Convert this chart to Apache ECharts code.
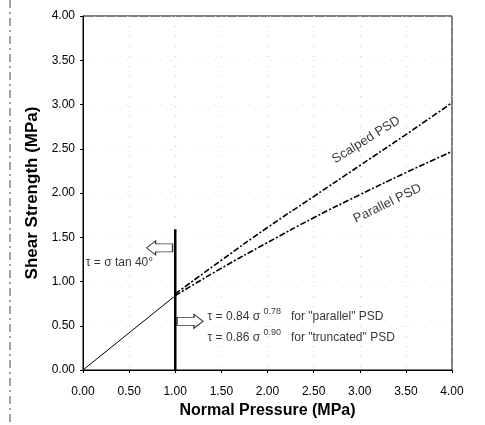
<!DOCTYPE html>
<html>
<head>
<meta charset="utf-8">
<script src="https://cdn.jsdelivr.net/npm/echarts@6/dist/echarts.min.js"></script>
<style>
html,body{margin:0;padding:0;background:#fff;}
#chart{width:485px;height:425px;}
</style>
</head>
<body>
<div id="chart"></div>
<script>
// ---- data ----
var xTicks = ['0.00','0.50','1.00','1.50','2.00','2.50','3.00','3.50','4.00'];
var yTicks = ['0.00','0.50','1.00','1.50','2.00','2.50','3.00','3.50','4.00'];
var frictionSigma = [0, 1.0];
var frictionTau   = [0, 0.84];
var curveSigma    = [1.0, 1.5, 2.0, 2.5, 3.0, 3.5, 4.0];
var scalpedTau    = [0.86, 1.24, 1.61, 1.96, 2.31, 2.66, 3.02];
var parallelTau   = [0.84, 1.15, 1.44, 1.72, 1.98, 2.23, 2.47];
var barSigma      = [1.0, 1.0];
var barTau        = [0.0, 1.59];

function pairs(xs, ys){ return xs.map(function(x,i){ return [x, ys[i]]; }); }

var font = 'Liberation Sans, Arial, sans-serif';
var arrowLeft  = 'path://M0,7 L9,0 L9,3 L26,3 L26,11 L9,11 L9,14 Z';
var arrowRight = 'path://M26,7 L17,0 L17,3 L0,3 L0,11 L17,11 L17,14 Z';

var chart = echarts.init(document.getElementById('chart'), null, {renderer:'canvas'});
var option = {
  animation: false,
  backgroundColor: '#fff',
  grid: {left: 83, right: 33, top: 16, bottom: 55, show: true, borderColor: '#000', borderWidth: 1, backgroundColor: 'transparent'},
  xAxis: {
    type: 'value', min: 0, max: 4, interval: 0.5,
    name: 'Normal Pressure (MPa)', nameLocation: 'middle', nameGap: 32,
    nameTextStyle: {fontFamily: font, fontSize: 16, fontWeight: 'bold', color: '#000'},
    axisLine: {show: true, lineStyle: {color: '#000', width: 1}},
    axisTick: {show: true, length: 3, lineStyle: {color: '#000'}},
    axisLabel: {fontFamily: font, fontSize: 12, color: '#000', margin: 16,
      formatter: function(v){ return xTicks[Math.round(v/0.5)]; }},
    splitLine: {show: true, lineStyle: {color: '#ccc', type: [1,9], width: 1}}
  },
  yAxis: {
    type: 'value', min: 0, max: 4, interval: 0.5,
    name: 'Shear Strength (MPa)', nameLocation: 'middle', nameGap: 42,
    nameTextStyle: {fontFamily: font, fontSize: 17, fontWeight: 'bold', color: '#000'},
    axisLine: {show: true, lineStyle: {color: '#000', width: 1}},
    axisTick: {show: true, length: 3, lineStyle: {color: '#000'}},
    axisLabel: {fontFamily: font, fontSize: 12, color: '#000', margin: 8,
      formatter: function(v){ return yTicks[Math.round(v/0.5)]; }},
    splitLine: {show: true, lineStyle: {color: '#ddd', type: [1,10], width: 1}}
  },
  graphic: [
    {type: 'line', shape: {x1: 10, y1: 0, x2: 10, y2: 425}, style: {stroke: '#444', lineWidth: 1, lineDash: [8,4,2,4]}}
  ],
  series: [
    {type: 'line', name: 'friction', data: pairs(frictionSigma, frictionTau), symbol: 'none',
      lineStyle: {color: '#000', width: 1}},
    {type: 'line', name: 'Scalped PSD', data: pairs(curveSigma, scalpedTau), symbol: 'none', smooth: true,
      lineStyle: {color: '#000', width: 1.6, type: [6,2,2,2]}},
    {type: 'line', name: 'Parallel PSD', data: pairs(curveSigma, parallelTau), symbol: 'none', smooth: true,
      lineStyle: {color: '#000', width: 1.6, type: [6,2,2,2]}},
    {type: 'line', name: 'boundary', data: pairs(barSigma, barTau), symbol: 'none',
      lineStyle: {color: '#000', width: 2.5}},
    {type: 'scatter', name: 'arrows', symbolKeepAspect: false, z: 5,
      itemStyle: {color: '#fff', borderColor: '#000', borderWidth: 1},
      data: [
        {value: [0.83, 1.38], symbol: arrowLeft, symbolSize: [26, 14]},
        {value: [1.16, 0.55], symbol: arrowRight, symbolSize: [26, 14]}
      ]},
    {type: 'scatter', name: 'labels', symbolSize: 0, z: 6,
      label: {show: true, color: '#000', fontFamily: font, fontSize: 12,
        rich: {
          t: {fontFamily: font, fontSize: 12, color: '#000'},
          s: {fontFamily: font, fontSize: 9, color: '#000', padding: [0,0,10,0]}
        }},
      data: [
        {value: [0.03, 1.21], label: {position: 'right', distance: 0, formatter: '{t|τ = σ tan 40°}'}},
        {value: [1.35, 0.60], label: {position: 'right', distance: 0, formatter: '{t|τ = 0.84 σ }{s|0.78}{t|   for "parallel" PSD}'}},
        {value: [1.35, 0.37], label: {position: 'right', distance: 0, formatter: '{t|τ = 0.86 σ }{s|0.90}{t|   for "truncated" PSD}'}},
        {value: [3.07, 2.60], label: {position: 'inside', rotate: 32, fontSize: 13, formatter: 'Scalped PSD'}},
        {value: [3.30, 1.88], label: {position: 'inside', rotate: 26, fontSize: 13, formatter: 'Parallel PSD'}}
      ]}
  ]
};
chart.setOption(option);
</script>
</body>
</html>
